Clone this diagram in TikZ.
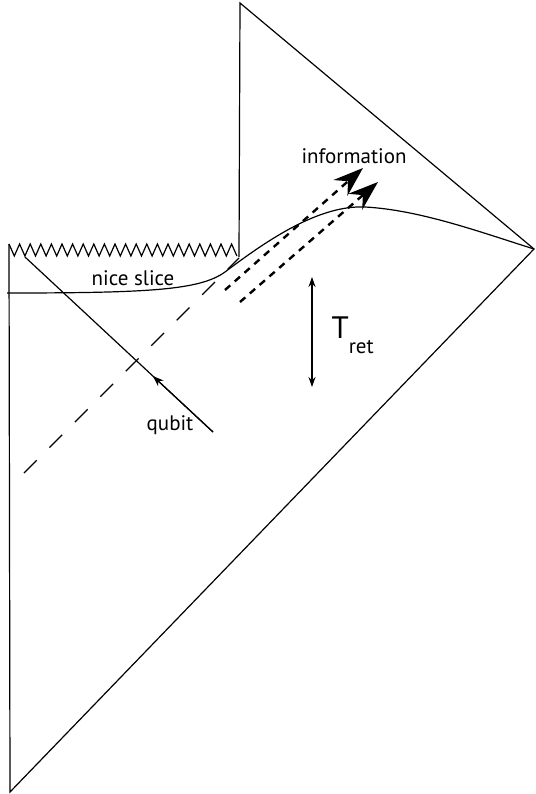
\documentclass[tikz,border=0pt]{standalone}
\usepackage{fontspec}
\setmainfont{PT Sans}
\usetikzlibrary{arrows.meta,calc}
\tikzset{
  lbl/.style={font=\fontsize{21}{24}\selectfont, inner sep=0pt},
  infoline/.style={line width=2.4pt, dash pattern=on 7pt off 6pt,
    -{Stealth[length=30pt,width=21pt,inset=10pt]}},
  tick/.style={-{Stealth[length=11pt,width=8pt]}},
}

\begin{document}
\begin{tikzpicture}[x=1pt,y=-1pt,line width=1.2pt]
\useasboundingbox (0,0) rectangle (535,794);
% corners of the diagram
\coordinate (top) at (240,3);
\coordinate (right) at (534,249);
\coordinate (bottom) at (10,792);
\coordinate (sing) at (9,244);
\coordinate (horizon) at (239,257);
\draw (sing) -- (bottom) -- (right) -- (top) -- (horizon);

% singularity
\draw[line join=miter] (sing) \foreach \k in {1,...,21}{ -- ++(5.3,12) -- ++(5.3,-12)} -- ++(5.3,12);

% nice slice
\draw (7,293) .. controls (150,293) and (200,290) .. (225,272)
  .. controls (270,238) and (320,205) .. (365,207)
  .. controls (420,210) and (480,232) .. (right);
\node[lbl, anchor=base] (nice) at (133,285) {nice slice};

% qubit falling in
\coordinate (qin) at (213,432);
\coordinate (qout) at (25,257);
\draw (qin) -- (qout);
\draw[tick] (qin) -- ($(qin)!0.32!(qout)$);
\node[lbl, anchor=base] (qubit) at (170,430) {qubit};

% outgoing partner
\coordinate (d0) at (24,473);
\coordinate (d1) at (239,258);
\draw[dash pattern=on 18pt off 18pt] (d0) -- (d1);

% information coming out
\coordinate (a0) at (225,290);
\coordinate (a1) at (363,168);
\coordinate (b0) at (240,302);
\coordinate (b1) at (378,182);
\draw[infoline] (a0) -- (a1);
\draw[infoline] (b0) -- (b1);
\node[lbl, anchor=base] (info) at (354,164) {information};

% retention time
\coordinate (t0) at (312,277);
\coordinate (t1) at (312,387);
\draw[{Stealth[length=10pt,width=7pt]}-{Stealth[length=10pt,width=7pt]}] (t0) -- (t1);
\node[anchor=base west, inner sep=0pt] (tret) at (331,338)
  {\fontsize{31}{31}\selectfont T\raisebox{-15pt}{\fontsize{21}{21}\selectfont ret}};
\end{tikzpicture}
\end{document}
